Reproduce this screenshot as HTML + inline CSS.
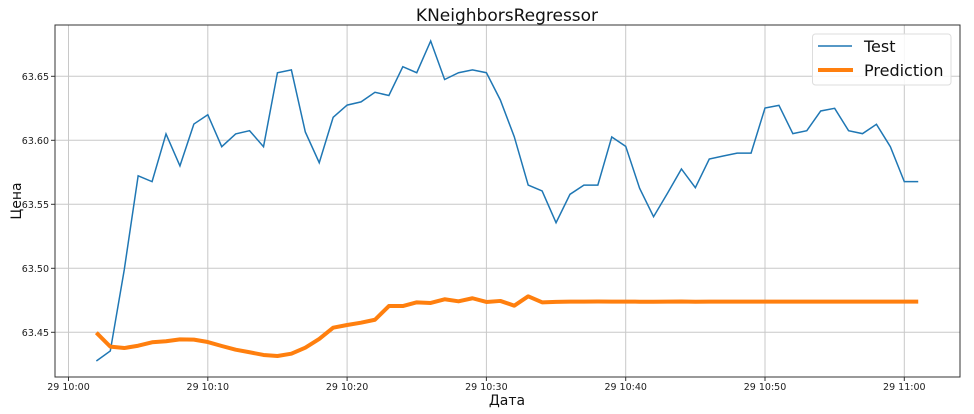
<!DOCTYPE html>
<html><head><meta charset="utf-8"><style>
body{margin:0;background:#fff;}
svg{display:block;font-family:"DejaVu Sans","Liberation Sans",sans-serif;}
</style></head><body>
<svg id="chart" width="974" height="414">
<text x="507" y="21" font-size="17" text-anchor="middle" fill="#111">KNeighborsRegressor</text>
<g id="grid"></g>
<g id="series"></g>
<rect x="55" y="25" width="905" height="352" fill="none" stroke="#333" stroke-width="1"/>
<g id="ticks"></g>
<text x="507" y="405" font-size="14" text-anchor="middle" fill="#111">Дата</text>
<text transform="translate(21,201) rotate(-90)" font-size="14" text-anchor="middle" fill="#111">Цена</text>
<g>
<rect x="812.5" y="34" width="138.5" height="51" rx="3" fill="#fff" fill-opacity="0.85" stroke="#ddd"/>
<line x1="818" y1="46" x2="852" y2="46" stroke="#1f77b4" stroke-width="1.5"/>
<text x="864" y="52" font-size="16" fill="#111">Test</text>
<line x1="818" y1="70" x2="853" y2="70" stroke="#ff7f0e" stroke-width="4"/>
<text x="864" y="76" font-size="16" fill="#111">Prediction</text>
</g>
</svg>
<script>
const minutes = [];
for (let m = 2; m <= 61; m++) minutes.push(m);
const testValues = [63.4276,63.4354,63.4987,63.5723,63.5677,63.605,63.580,63.6127,63.620,63.595,63.605,63.6075,63.595,63.6528,63.655,63.6065,63.5825,63.618,63.6275,63.630,63.6375,63.635,63.6575,63.6528,63.6776,63.6475,63.6528,63.655,63.6528,63.6315,63.6028,63.565,63.5604,63.5356,63.5578,63.565,63.565,63.6026,63.5953,63.5625,63.5403,63.5586,63.5776,63.563,63.5854,63.5877,63.590,63.590,63.6252,63.6273,63.6052,63.6075,63.6229,63.625,63.6075,63.6052,63.6125,63.595,63.5677,63.5677];
const predValues = [63.4497,63.4388,63.4377,63.4395,63.4422,63.443,63.4445,63.4443,63.4424,63.4393,63.4364,63.4344,63.4323,63.4315,63.4333,63.438,63.4448,63.4536,63.4557,63.4575,63.4598,63.4705,63.4705,63.4734,63.4729,63.4758,63.4742,63.4766,63.4737,63.4745,63.4708,63.4781,63.4734,63.4738,63.474,63.474,63.4741,63.474,63.474,63.4739,63.4739,63.474,63.4741,63.4739,63.474,63.474,63.474,63.474,63.474,63.474,63.474,63.474,63.474,63.474,63.474,63.474,63.474,63.474,63.474,63.474];
const yTicks = [63.45,63.50,63.55,63.60,63.65];
const xTickMinutes = [0,10,20,30,40,50,60];
const xTickLabels = ["29 10:00","29 10:10","29 10:20","29 10:30","29 10:40","29 10:50","29 11:00"];

const NS = "http://www.w3.org/2000/svg";
const x = m => 68.5 + m * 13.93;
const y = v => 332.3 - (v - 63.45) * 1280;
function mk(tag, attrs, parent){const e=document.createElementNS(NS,tag);for(const k in attrs)e.setAttribute(k,attrs[k]);parent.appendChild(e);return e;}
const grid=document.getElementById('grid'), ticks=document.getElementById('ticks'), series=document.getElementById('series');
yTicks.forEach(v=>{
  const gl=mk('line',{x1:55,x2:960,y1:y(v),y2:y(v),stroke:'#c8c8c8','stroke-width':1},grid);
  
  
  mk('line',{x1:51,x2:55,y1:y(v),y2:y(v),stroke:'#333'},ticks);
  const t=mk('text',{x:49,y:y(v)+3.5,'font-size':9.5,'text-anchor':'end',fill:'#222'},ticks);
  t.textContent=v.toFixed(2);
  
  
});
xTickMinutes.forEach((m,i)=>{
  const gl=mk('line',{x1:x(m),x2:x(m),y1:25,y2:377,stroke:'#c8c8c8','stroke-width':1},grid);
  
  
  mk('line',{x1:x(m),x2:x(m),y1:377,y2:381,stroke:'#333'},ticks);
  const t=mk('text',{x:x(m),y:390,'font-size':9.5,'text-anchor':'middle',fill:'#222'},ticks);
  t.textContent=xTickLabels[i];
  
  
});
const tp=mk('polyline',{points:minutes.map((m,i)=>x(m)+','+y(testValues[i])).join(' '),fill:'none',stroke:'#1f77b4','stroke-width':1.5},series);


const pp=mk('polyline',{points:minutes.map((m,i)=>x(m)+','+y(predValues[i])).join(' '),fill:'none',stroke:'#ff7f0e','stroke-width':4,'stroke-linejoin':'round'},series);


</script>
</body></html>
